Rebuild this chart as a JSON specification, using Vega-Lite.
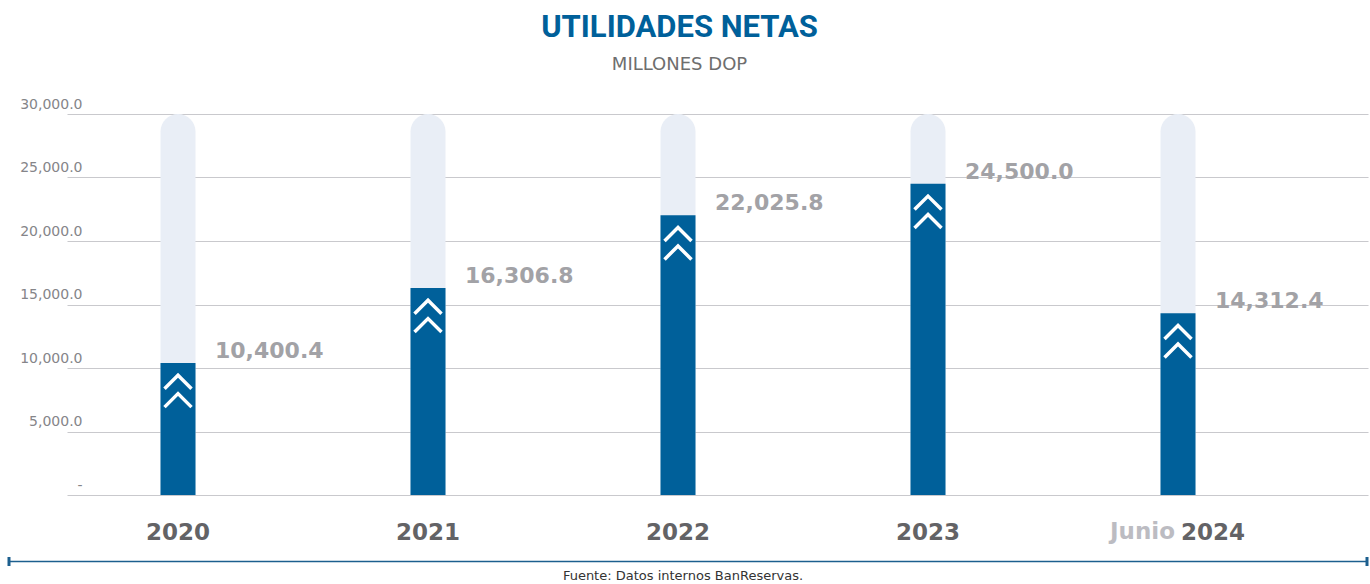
{
  "$schema": "https://vega.github.io/schema/vega-lite/v6.json",
  "width": 1301,
  "height": 381,
  "autosize": {"type": "none"},
  "padding": {"left": 67, "top": 114, "right": 2, "bottom": 89},
  "background": "white",
  "config": {"view": {"stroke": null}},
  "title": {
    "text": "UTILIDADES NETAS",
    "subtitle": "MILLONES DOP",
    "anchor": "middle",
    "dx": -38,
    "offset": 22,
    "font": "Roboto",
    "fontSize": 31,
    "fontWeight": "bold",
    "color": "#00609a",
    "subtitleFont": "DejaVu Sans",
    "subtitleFontSize": 18,
    "subtitleFontWeight": "normal",
    "subtitleColor": "#6e6e6e",
    "subtitlePadding": 12
  },
  "datasets": {
    "bars": [
      {"period": "2020", "value": 10400.4, "prefix": ""},
      {"period": "2021", "value": 16306.8, "prefix": ""},
      {"period": "2022", "value": 22025.8, "prefix": ""},
      {"period": "2023", "value": 24500.0, "prefix": ""},
      {"period": "Junio 2024", "value": 14312.4, "prefix": "Junio"}
    ],
    "footer": [
      {"start": 0, "end": 1, "mid": 0.4963, "line": -5236, "capTop": -4882, "capBottom": -5591, "textY": -6693, "note": "Fuente: Datos internos BanReservas."}
    ]
  },
  "resolve": {"scale": {"x": "independent"}},
  "layer": [
    {
      "data": {"name": "bars"},
      "encoding": {
        "x": {
          "field": "period",
          "type": "nominal",
          "sort": null,
          "scale": {"paddingInner": 0.5, "paddingOuter": 0.352, "align": 0.2756},
          "axis": {
            "title": null,
            "domain": false,
            "ticks": false,
            "tickSize": 0,
            "grid": false,
            "labelAngle": 0,
            "labelFont": "DejaVu Sans",
            "labelFontSize": 23,
            "labelFontWeight": "bold",
            "labelColor": "#636366",
            "labelBaseline": "alphabetic",
            "labelPadding": 44,
            "labelExpr": "datum.value == 'Junio 2024' ? '2024' : datum.value",
            "labelAlign": {"condition": {"test": "datum.value == 'Junio 2024'", "value": "left"}, "value": "center"},
            "labelOffset": {"condition": {"test": "datum.value == 'Junio 2024'", "value": 3}, "value": 0}
          }
        }
      },
      "layer": [
        {
          "mark": {"type": "bar", "width": 35, "color": "#e9eef6", "cornerRadiusTopLeft": 17.5, "cornerRadiusTopRight": 17.5},
          "encoding": {
            "y": {
              "datum": 30000,
              "type": "quantitative",
              "scale": {"domain": [0, 30000], "nice": false},
              "axis": {
                "title": null,
                "domain": false,
                "ticks": false,
                "tickSize": 0,
                "grid": true,
                "gridColor": "#c9c9cd",
                "gridWidth": 1,
                "values": [0, 5000, 10000, 15000, 20000, 25000, 30000],
                "labelFont": "DejaVu Sans",
                "labelFontSize": 14,
                "labelColor": "#858589",
                "labelAlign": "right",
                "labelBaseline": "alphabetic",
                "labelPadding": -15,
                "labelOffset": -6,
                "labelOverlap": false,
                "labelExpr": "datum.value == 0 ? '-' : format(datum.value, ',.1f')"
              }
            }
          }
        },
        {
          "mark": {"type": "bar", "width": 35, "color": "#00609a"},
          "encoding": {
            "y": {"field": "value", "type": "quantitative", "scale": {"domain": [0, 30000], "nice": false}}
          }
        },
        {
          "mark": {
            "type": "point",
            "shape": "M-0.9,-0.15 L0,-1.05 L0.9,-0.15 M-0.9,1.08 L0,0.18 L0.9,1.08",
            "filled": false,
            "stroke": "white",
            "strokeWidth": 3.5,
            "strokeCap": "butt",
            "strokeJoin": "miter",
            "opacity": 1,
            "size": 900,
            "yOffset": 28
          },
          "encoding": {
            "y": {"field": "value", "type": "quantitative", "scale": {"domain": [0, 30000], "nice": false}}
          }
        },
        {
          "mark": {
            "type": "text",
            "align": "left",
            "baseline": "middle",
            "dx": 37,
            "dy": -12,
            "font": "DejaVu Sans",
            "fontSize": 22,
            "fontWeight": "bold",
            "color": "#a2a2a6"
          },
          "encoding": {
            "y": {"field": "value", "type": "quantitative", "scale": {"domain": [0, 30000], "nice": false}},
            "text": {"field": "value", "type": "quantitative", "format": ",.1f"}
          }
        },
        {
          "transform": [{"filter": "datum.prefix != ''"}],
          "mark": {
            "type": "text",
            "align": "right",
            "baseline": "alphabetic",
            "dx": -3,
            "dy": 44,
            "font": "DejaVu Sans",
            "fontSize": 23,
            "fontWeight": "bold",
            "color": "#bcbcc2"
          },
          "encoding": {
            "y": {"datum": 0, "type": "quantitative", "scale": {"domain": [0, 30000], "nice": false}},
            "text": {"field": "prefix", "type": "nominal"}
          }
        }
      ]
    },
    {
      "data": {"name": "footer"},
      "encoding": {
        "x": {"field": "start", "type": "quantitative", "scale": {"domain": [0, 1], "range": [-58, 1300], "nice": false, "zero": false}, "axis": null}
      },
      "layer": [
        {
          "mark": {"type": "rule", "color": "#1c5f8e", "strokeWidth": 1.5},
          "encoding": {
            "x2": {"field": "end"},
            "y": {"field": "line", "type": "quantitative", "scale": {"domain": [0, 30000], "nice": false}}
          }
        },
        {
          "mark": {"type": "rule", "color": "#1c5f8e", "strokeWidth": 3},
          "encoding": {
            "y": {"field": "capTop", "type": "quantitative", "scale": {"domain": [0, 30000], "nice": false}},
            "y2": {"field": "capBottom"}
          }
        },
        {
          "mark": {"type": "rule", "color": "#1c5f8e", "strokeWidth": 3},
          "encoding": {
            "x": {"field": "end", "type": "quantitative"},
            "y": {"field": "capTop", "type": "quantitative", "scale": {"domain": [0, 30000], "nice": false}},
            "y2": {"field": "capBottom"}
          }
        },
        {
          "mark": {"type": "text", "align": "center", "baseline": "alphabetic", "font": "DejaVu Sans", "fontSize": 13, "color": "#333333"},
          "encoding": {
            "x": {"field": "mid", "type": "quantitative"},
            "y": {"field": "textY", "type": "quantitative", "scale": {"domain": [0, 30000], "nice": false}},
            "text": {"field": "note", "type": "nominal"}
          }
        }
      ]
    }
  ]
}
